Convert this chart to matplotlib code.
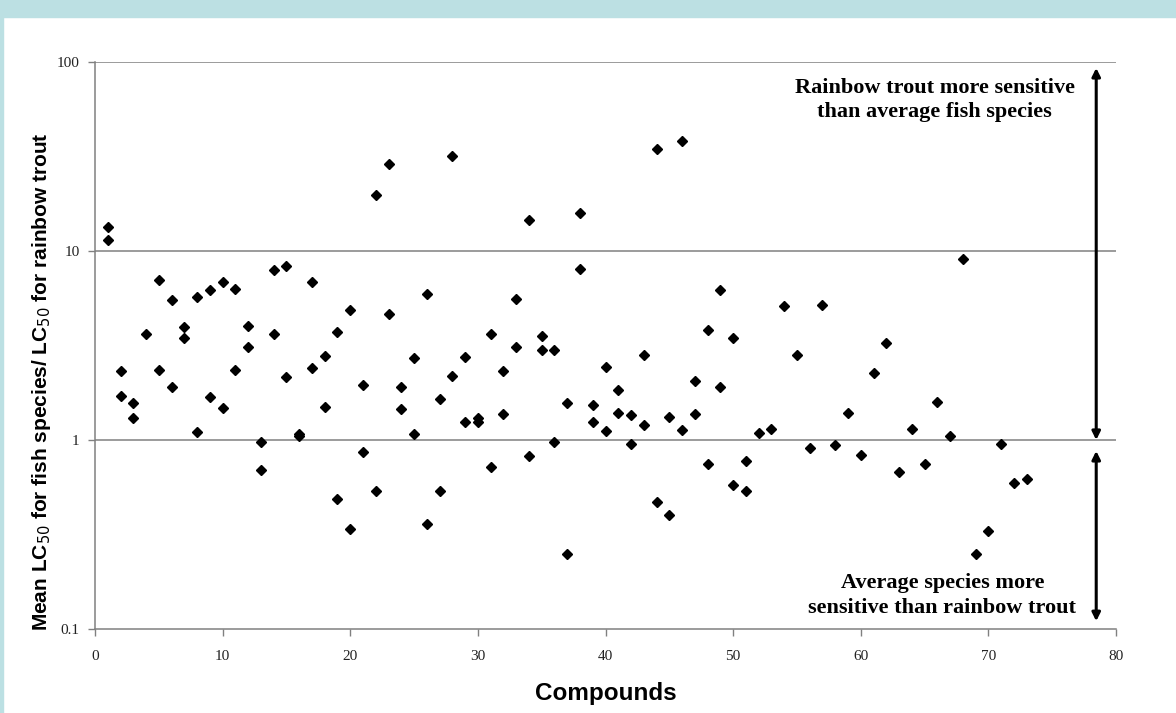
import numpy as np
import matplotlib
matplotlib.use("Agg")
import matplotlib.pyplot as plt
from matplotlib.patches import Rectangle

# compound number and ratio mean LC50 (all fish) / LC50 (rainbow trout)
compound = [
    1, 1, 2, 2, 3, 3, 4, 5, 5, 6, 6, 7, 7, 8, 8, 9, 9, 10, 10, 11, 11,
    12, 12, 13, 13, 14, 14, 15, 15, 16, 16, 17, 17, 18, 18, 19, 19, 20, 20,
    21, 21, 22, 22, 23, 23, 24, 24, 25, 25, 26, 26, 27, 27, 28, 28, 29, 29,
    30, 30, 31, 31, 32, 32, 33, 33, 34, 34, 35, 35, 36, 36, 37, 37, 38, 38,
    39, 39, 40, 40, 41, 41, 42, 42, 43, 43, 44, 44, 45, 45, 46, 46, 47, 47,
    48, 48, 49, 49, 50, 50, 51, 51, 52, 53, 54, 55, 56, 57, 58, 59, 60,
    61, 62, 63, 64, 65, 66, 67, 68, 69, 70, 71, 72, 73,
]
ratio = [
    13.4, 11.4, 2.32, 1.71, 1.57, 1.31, 3.64, 7.0, 2.35, 5.5, 1.91, 3.96, 3.47,
    5.7, 1.10, 6.2, 1.69, 6.85, 1.48, 6.3, 2.35, 4.0, 3.1, 0.98, 0.69,
    7.9, 3.64, 8.3, 2.15, 1.05, 1.07, 6.85, 2.4, 2.78, 1.5, 3.73, 0.49,
    4.87, 0.34, 1.95, 0.86, 19.8, 0.54, 28.9, 4.64, 1.91, 1.46, 2.72, 1.08,
    5.9, 0.36, 1.65, 0.54, 31.8, 2.18, 2.75, 1.24, 1.31, 1.24, 3.64, 0.72,
    2.32, 1.37, 5.6, 3.1, 14.6, 0.82, 3.55, 2.99, 2.99, 0.98, 1.57, 0.25,
    15.9, 8.0, 1.53, 1.24, 2.43, 1.12, 1.84, 1.39, 1.36, 0.95, 2.82, 1.20,
    34.7, 0.47, 1.32, 0.40, 38.2, 1.13, 2.05, 1.37, 3.82, 0.75, 6.2, 1.91,
    3.47, 0.58, 0.77, 0.54, 1.09, 1.14, 5.1, 2.82, 0.91, 5.2, 0.94, 1.39,
    0.83, 2.26, 3.26, 0.68, 1.14, 0.75, 1.59, 1.05, 9.1, 0.25, 0.33, 0.95,
    0.59, 0.62,
]

upper_text = "Rainbow trout more sensitive\nthan average fish species"
lower_text = "Average species more\nsensitive than rainbow trout"

fig = plt.figure(figsize=(11.76, 7.13), dpi=100)
fig.patch.set_facecolor("white")
# light blue frame strips (top and left)
fig.add_artist(Rectangle((0, 1 - 17 / 713), 1, 17 / 713, transform=fig.transFigure,
                         color="#bce0e3", zorder=0))
fig.add_artist(Rectangle((0, 0), 3 / 1176, 1, transform=fig.transFigure,
                         color="#bce0e3", zorder=0))

ax = fig.add_axes([95 / 1176, 84 / 713, 1021 / 1176, 567 / 713])
ax.set_yscale("log")
ax.set_xlim(0, 80)
ax.set_ylim(0.1, 100)

ax.plot(compound, ratio, linestyle="none", marker="D", markersize=5.4,
        color="black", zorder=3, clip_on=False)

for v in [1, 10, 100]:
    ax.axhline(v, color="#808080", lw=1.1, zorder=1)

for s in ["top", "right"]:
    ax.spines[s].set_visible(False)
for s in ["left", "bottom"]:
    ax.spines[s].set_color("#808080")
    ax.spines[s].set_linewidth(1.1)

ax.set_xticks(np.arange(0, 81, 10))
ax.set_yticks([0.1, 1, 10, 100])
ax.set_yticklabels(["0.1", "1", "10", "100"])
ax.yaxis.set_minor_locator(matplotlib.ticker.NullLocator())
ax.tick_params(axis="both", direction="out", length=5, width=1, color="#808080",
               labelsize=11, labelcolor="#222222", pad=6)
for lab in ax.get_xticklabels() + ax.get_yticklabels():
    lab.set_fontfamily("Liberation Serif")
ax.tick_params(axis="x", pad=10)

ax.set_xlabel("Compounds", fontsize=17.5, fontweight="bold",
              fontfamily="Liberation Sans", labelpad=14)
ax.set_ylabel("Mean LC$_{50}$ for fish species/ LC$_{50}$ for rainbow trout",
              fontsize=15, fontweight="bold", fontfamily="Liberation Sans")
ax.yaxis.set_label_coords(-0.041, 0.436)

# arrows
arrow_kw = dict(arrowstyle="<|-|>", color="black", lw=2.2, mutation_scale=12,
                shrinkA=0, shrinkB=0)
ax.annotate("", xy=(78.45, 93), xytext=(78.45, 1.0), arrowprops=arrow_kw,
            annotation_clip=False)
ax.annotate("", xy=(78.45, 0.875), xytext=(78.45, 0.11), arrowprops=arrow_kw,
            annotation_clip=False)

ax.text(65.8, 63, upper_text, ha="center", va="center", fontsize=16,
        fontweight="bold", fontfamily="Liberation Serif", linespacing=1.32)
ax.text(66.4, 0.15, lower_text, ha="center", va="center", fontsize=16,
        fontweight="bold", fontfamily="Liberation Serif", linespacing=1.32)

fig.savefig("out.png", dpi=100, facecolor=fig.get_facecolor())
